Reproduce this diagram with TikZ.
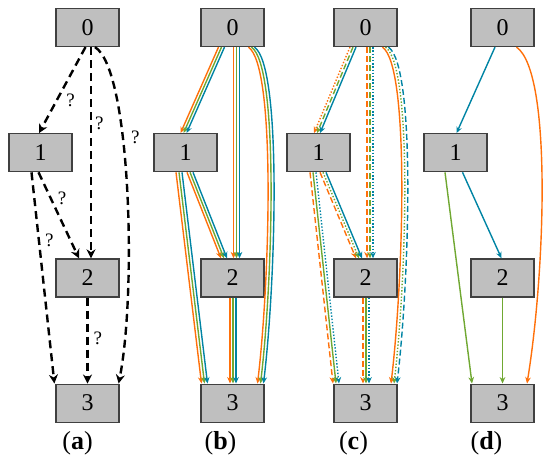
\documentclass[tikz,border=0pt]{standalone}
\usepackage{fontspec}
\setmainfont{Liberation Serif}
\usetikzlibrary{arrows.meta,positioning,calc}
\definecolor{orng}{RGB}{255,112,10}
\definecolor{grn}{RGB}{112,168,50}
\definecolor{blu}{RGB}{0,132,164}
\tikzset{
  >=Stealth,
  box/.style={draw=black!75,fill=black!25,line width=0.6pt,minimum width=31.5pt,minimum height=19pt,inner sep=0pt,font=\fontsize{12}{12}\selectfont},
  lbl/.style={inner sep=0pt,font=\fontsize{13}{13}\selectfont},
  q/.style={inner sep=1.5pt,font=\fontsize{9.5}{9.5}\selectfont},
  qarr/.style={-{Stealth[length=4.5pt,width=4.5pt]},line width=1.2pt,dash pattern=on 4pt off 2.5pt},
  carr/.style={-{Stealth[length=3.2pt,width=2.8pt]},line width=0.7pt},
  dsh/.style={dash pattern=on 3pt off 1.5pt},
  dtt/.style={dash pattern=on 0.7pt off 0.9pt}
}
\begin{document}
\begin{tikzpicture}[x=0.5pt,y=-0.5pt]
\useasboundingbox (0,0) rectangle (550,463);
% (a) candidate edges
\node[box](a0) at (87.5,27.5){0};
\node[box,below=43pt of a0,xshift=-23.5pt](a1){1};
\node[box,below=43pt of a1,xshift=23.5pt](a2){2};
\node[box,below=43pt of a2](a3){3};
\node[lbl,below=4pt of a3,xshift=-5pt]{(\textbf{a})};
\draw[qarr] ($(a0.south)+(-2,0)$) -- node[q,pos=0.5,below right]{?} ($(a1.north)+(-1.5,0)$);
\draw[qarr] ($(a0.south)+(3.5,0)$) -- node[q,pos=0.36,right]{?} ($(a2.north)+(3.5,0)$);
\draw[qarr] ($(a0.south)+(7.5,0)$) .. controls +(36,22) and +(18,-90) .. node[q,pos=0.37,right=2pt]{?} ($(a3.north east)+(-1,0)$);
\draw[qarr] ($(a1.south)+(-2,0)$) -- node[q,pos=0.3,right=1.5pt]{?} ($(a2.north)+(-8.5,0)$);
\draw[qarr] ($(a1.south)+(-9,0)$) -- node[q,pos=0.32,right=1pt]{?} ($(a3.north west)+(-1,0)$);
\draw[qarr] (a2.south) -- node[q,pos=0.47,right=1pt]{?} (a3.north);
% (b) all three solutions
\node[box](b0) at (232.5,27.5){0};
\node[box,below=43pt of b0,xshift=-23.5pt](b1){1};
\node[box,below=43pt of b1,xshift=23.5pt](b2){2};
\node[box,below=43pt of b2](b3){3};
\node[lbl,below=4pt of b3,xshift=-6pt]{(\textbf{b})};
\foreach \c/\d in {orng/-3,grn/0,blu/3}{
  \draw[carr,\c] ($(b0.south)+(-11+\d,0)$) -- ($(b1.north)+(-2+\d,0)$);
  \draw[carr,\c] ($(b0.south)+(4+\d,0)$) -- ($(b2.north)+(4+\d,0)$);
  \draw[carr,\c] ($(b0.south)+(19+\d,0)$) .. controls +(28,20) and +(12,-100) .. ($(b3.north)+(28+\d,0)$);
  \draw[carr,\c] ($(b1.south)+(4.5+\d,0)$) -- ($(b2.north)+(-8.5+\d,0)$);
  \draw[carr,\c] ($(b1.south)+(-6.5+\d,0)$) -- ($(b3.north)+(-28+\d,0)$);
  \draw[carr,\c] ($(b2.south)+(0.5+\d,0)$) -- ($(b3.north)+(0.5+\d,0)$);
}
% (c) solutions with line styles
\node[box](c0) at (365.5,27.5){0};
\node[box,below=43pt of c0,xshift=-23.5pt](c1){1};
\node[box,below=43pt of c1,xshift=23.5pt](c2){2};
\node[box,below=43pt of c2](c3){3};
\node[lbl,below=4pt of c3,xshift=-6pt]{(\textbf{c})};
\foreach \c/\d/\sa/\sb/\sc/\sd/\se/\sf in {orng/-3/dtt/dsh/solid/dsh/dsh/dsh,grn/0/dsh/dsh/dtt/dtt/solid/solid,blu/3/solid/dtt/dsh/solid/dtt/dtt}{
  \draw[carr,\c,\sa] ($(c0.south)+(-12.5+\d,0)$) -- ($(c1.north)+(-1.5+\d,0)$);
  \draw[carr,\c,\sb] ($(c0.south)+(4.5+\d,0)$) -- ($(c2.north)+(4.5+\d,0)$);
  \draw[carr,\c,\sc] ($(c0.south)+(20+\d,0)$) .. controls +(28,20) and +(12,-100) .. ($(c3.north)+(28.5+\d,0)$);
  \draw[carr,\c,\sd] ($(c1.south)+(4.5+\d,0)$) -- ($(c2.north)+(-6.5+\d,0)$);
  \draw[carr,\c,\se] ($(c1.south)+(-5.5+\d,0)$) -- ($(c3.north)+(-29.5+\d,0)$);
  \draw[carr,\c,\sf] ($(c2.south)+(0.5+\d,0)$) -- ($(c3.north)+(0.5+\d,0)$);
}
% (d) final result
\node[box](d0) at (502.5,27.5){0};
\node[box,below=43pt of d0,xshift=-23.5pt](d1){1};
\node[box,below=43pt of d1,xshift=23.5pt](d2){2};
\node[box,below=43pt of d2](d3){3};
\node[lbl,below=4pt of d3,xshift=-8pt]{(\textbf{d})};
\draw[carr,blu] ($(d0.south)+(-7.5,0)$) -- ($(d1.north)+(1,0)$);
\draw[carr,orng] ($(d0.south)+(14,0)$) .. controls +(36,25) and +(18,-110) .. ($(d3.north)+(24.5,0)$);
\draw[carr,blu] ($(d1.south)+(7,0)$) -- ($(d2.north)+(-1,0)$);
\draw[carr,grn] ($(d1.south)+(-10.5,0)$) -- ($(d3.north)+(-30.5,0)$);
\draw[carr,grn] (d2.south) -- (d3.north);
\end{tikzpicture}
\end{document}
